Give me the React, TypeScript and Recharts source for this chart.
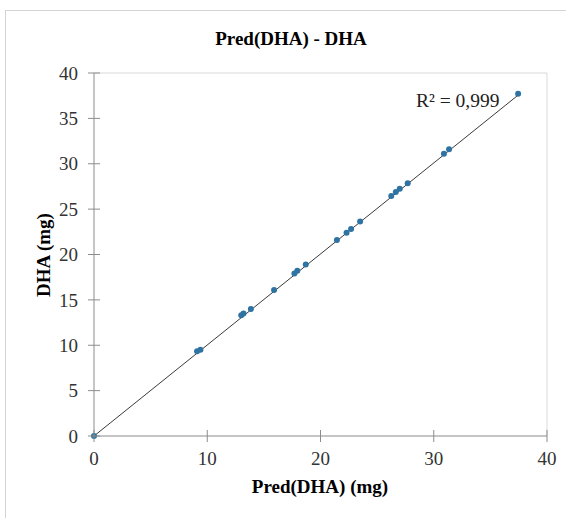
import React from 'react';
import { ScatterChart, Scatter, XAxis, YAxis, ReferenceLine } from 'recharts';

// Pred(DHA) on x, measured DHA on y (mg)
const predDHA = [0, 9.1, 9.4, 13.0, 13.2, 13.85, 15.9, 17.7, 17.95, 18.7, 21.45, 22.3, 22.7, 23.5, 26.25, 26.65, 27.0, 27.7, 30.9, 31.35, 37.45];
const dha = [0, 9.35, 9.5, 13.3, 13.5, 14.0, 16.1, 17.9, 18.2, 18.9, 21.6, 22.4, 22.8, 23.65, 26.45, 26.9, 27.25, 27.85, 31.1, 31.6, 37.7];
const xTicks = [0, 10, 20, 30, 40];
const yTicks = [0, 5, 10, 15, 20, 25, 30, 35, 40];
const trendSlope = 1.003;
const r2Label = 'R² = 0,999';

const points = predDHA.map((x, i) => ({ x, y: dha[i] }));
const xMax = Math.max(...predDHA);

const FONT = '"Liberation Serif", "Times New Roman", serif';
const AXIS = '#8c8c8c';
const OFF = 16; // tickSize + tickMargin

const XTick = (props: any) => {
  const { x, y, payload } = props;
  const ay = y - OFF;
  return (
    <g>
      <line x1={x} x2={x} y1={ay - 6} y2={ay + 6} stroke={AXIS} />
      <text x={x} y={y} dy="0.71em" textAnchor="middle" fill="#333" fontSize={19} fontFamily={FONT}>
        {payload.value}
      </text>
    </g>
  );
};

const YTick = (props: any) => {
  const { x, y, payload } = props;
  const ax = x + OFF;
  return (
    <g>
      <line x1={ax - 6} x2={ax + 6} y1={y} y2={y} stroke={AXIS} />
      <text x={x} y={y} dy="0.355em" textAnchor="end" fill="#333" fontSize={19} fontFamily={FONT}>
        {payload.value}
      </text>
    </g>
  );
};

export default function App() {
  return (
    <div style={{ position: 'absolute', left: 0, top: 0, width: 566, height: 518, overflow: 'hidden', background: '#fff' }}>
      {/* chart frame, cut off at right and bottom like the source */}
      <div style={{ position: 'absolute', left: 5, top: 10, width: 620, height: 600, border: '1px solid #d4d4d4' }} />
      <div style={{ position: 'absolute', left: 0, top: 0 }}>
        <ScatterChart width={566} height={518} margin={{ top: 73, right: 19, bottom: 0, left: 0 }}>
          <ReferenceLine y={40} stroke="#d9d9d9" />
          <ReferenceLine x={40} stroke="#d9d9d9" />
          <XAxis
            type="number"
            dataKey="x"
            domain={[0, 40]}
            ticks={xTicks}
            height={82}
            axisLine={{ stroke: AXIS }}
            tickLine={false}
            tickSize={5}
            tickMargin={11}
            tick={<XTick />}
          />
          <YAxis
            type="number"
            dataKey="y"
            domain={[0, 40]}
            ticks={yTicks}
            width={94}
            axisLine={{ stroke: AXIS }}
            tickLine={false}
            tickSize={5}
            tickMargin={11}
            tick={<YTick />}
          />
          <ReferenceLine
            segment={[{ x: 0, y: 0 }, { x: xMax, y: xMax * trendSlope }]}
            stroke="#3a3a3a"
            strokeWidth={1}
          />
          <Scatter
            data={points}
            isAnimationActive={false}
            shape={(p: any) => <circle cx={p.cx} cy={p.cy} r={3} fill="#2f73a3" />}
          />
        </ScatterChart>
      </div>
      <svg width={566} height={518} style={{ position: 'absolute', left: 0, top: 0, pointerEvents: 'none' }}>
        <text x={291} y={45} textAnchor="middle" fontFamily={FONT} fontSize={19} fontWeight="bold" fill="#000">
          Pred(DHA) - DHA
        </text>
        <text x={320} y={493} textAnchor="middle" fontFamily={FONT} fontSize={19} fontWeight="bold" fill="#000">
          Pred(DHA) (mg)
        </text>
        <text x={50} y={255} transform="rotate(-90, 50, 255)" textAnchor="middle" fontFamily={FONT} fontSize={19} fontWeight="bold" fill="#000">
          DHA (mg)
        </text>
        <text x={416} y={107} fontFamily={FONT} fontSize={19.5} fill="#222">
          {r2Label}
        </text>
      </svg>
    </div>
  );
}
